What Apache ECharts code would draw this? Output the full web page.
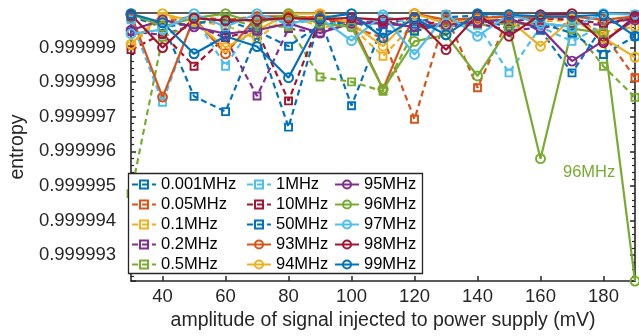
<!DOCTYPE html>
<html>
<head>
<meta charset="utf-8">
<script src="https://cdn.jsdelivr.net/npm/echarts@6/dist/echarts.min.js"></script>
<style>
  html, body { margin: 0; padding: 0; background: #fff; }
  #chart { width: 639px; height: 336px; }
</style>
</head>
<body>
<div id="chart"></div>
<script>
// Injected amplitude (mV)
const amplitudes = [30, 40, 50, 60, 70, 80, 90, 100, 110, 120, 130, 140, 150, 160, 170, 180, 190];

// Entropy per injected frequency
const f0_001MHz = [0.99999995, 0.99999970, 0.99999759, 0.99999715, 0.99999936, 0.99999670, 0.99999985, 0.99999732, 0.99999966, 0.99999975, 0.99999988, 0.99999992, 0.99999985, 0.99999950, 0.99999827, 0.99999965, 0.99999990];
const f0_05MHz  = [0.99999985, 0.99999975, 0.99999990, 0.99999980, 0.99999990, 0.99999970, 0.99999995, 0.99999960, 0.99999928, 0.99999693, 0.99999995, 0.99999784, 0.99999990, 0.99999985, 0.99999990, 0.99999940, 0.99999813];
const f0_1MHz   = [0.99999905, 0.99999990, 0.99999976, 0.99999965, 0.99999925, 0.99999995, 0.99999960, 0.99999961, 0.99999875, 0.99999970, 0.99999955, 0.99999985, 0.99999965, 0.99999975, 0.99999980, 0.99999945, 0.99999960];
const f0_2MHz   = [0.99999946, 0.99999937, 0.99999965, 0.99999928, 0.99999760, 0.99999955, 0.99999942, 0.99999980, 0.99999970, 0.99999985, 0.99999960, 0.99999970, 0.99999950, 0.99999957, 0.99999970, 0.99999966, 0.99999985];
const f0_5MHz   = [0.99999478, 0.99999930, 0.99999970, 0.99999985, 0.99999960, 0.99999961, 0.99999815, 0.99999801, 0.99999774, 0.99999950, 0.99999975, 0.99999965, 0.99999970, 0.99999970, 0.99999961, 0.99999846, 0.99999756];
const f1MHz     = [0.99999980, 0.99999742, 0.99999990, 0.99999846, 0.99999985, 0.99999970, 0.99999980, 0.99999960, 0.99999990, 0.99999970, 0.99999960, 0.99999966, 0.99999827, 0.99999960, 0.99999918, 0.99999966, 0.99999995];
const f10MHz    = [0.99999894, 0.99999940, 0.99999846, 0.99999930, 0.99999950, 0.99999746, 0.99999982, 0.99999970, 0.99999975, 0.99999960, 0.99999980, 0.99999970, 0.99999975, 0.99999985, 0.99999980, 0.99999970, 0.99999985];
const f50MHz    = [0.99999990, 0.99999960, 0.99999970, 0.99999980, 0.99999947, 0.99999904, 0.99999965, 0.99999975, 0.99999947, 0.99999947, 0.99999970, 0.99999980, 0.99999960, 0.99999970, 0.99999942, 0.99999880, 0.99999933];
const f93MHz    = [0.99999995, 0.99999757, 0.99999985, 0.99999882, 0.99999990, 0.99999990, 0.99999985, 0.99999972, 0.99999780, 0.99999998, 0.99999980, 0.99999985, 0.99999990, 0.99999985, 0.99999990, 0.99999980, 0.99999990];
const f94MHz    = [0.99999910, 0.99999998, 0.99999975, 0.99999900, 0.99999950, 0.99999998, 0.99999998, 0.99999970, 0.99999904, 0.99999998, 0.99999970, 0.99999980, 0.99999980, 0.99999904, 0.99999983, 0.99999928, 0.99999872];
const f95MHz    = [0.99999950, 0.99999980, 0.99999960, 0.99999940, 0.99999950, 0.99999970, 0.99999942, 0.99999970, 0.99999970, 0.99999960, 0.99999965, 0.99999976, 0.99999980, 0.99999957, 0.99999861, 0.99999920, 0.99999980];
const f96MHz    = [0.99999997, 0.99999961, 0.99999985, 0.99999998, 0.99999970, 0.99999998, 0.99999970, 0.99999960, 0.99999780, 0.99999918, 0.99999937, 0.99999818, 0.99999957, 0.99999579, 0.99999955, 0.99999942, 0.99999225];
const f97MHz    = [0.99999940, 0.99999952, 0.99999998, 0.99999960, 0.99999998, 0.99999970, 0.99999985, 0.99999920, 0.99999995, 0.99999880, 0.99999995, 0.99999933, 0.99999995, 0.99999970, 0.99999960, 0.99999998, 0.99999995];
const f98MHz    = [0.99999995, 0.99999900, 0.99999985, 0.99999978, 0.99999980, 0.99999985, 0.99999982, 0.99999986, 0.99999980, 0.99999986, 0.99999894, 0.99999995, 0.99999933, 0.99999995, 0.99999998, 0.99999914, 0.99999990];
const f99MHz    = [0.99999998, 0.99999972, 0.99999882, 0.99999933, 0.99999903, 0.99999813, 0.99999985, 0.99999998, 0.99999928, 0.99999985, 0.99999937, 0.99999998, 0.99999995, 0.99999990, 0.99999990, 0.99999995, 0.99999933];

const seriesNames = ['0.001MHz', '0.05MHz', '0.1MHz', '0.2MHz', '0.5MHz', '1MHz', '10MHz', '50MHz',
                     '93MHz', '94MHz', '95MHz', '96MHz', '97MHz', '98MHz', '99MHz'];
const seriesValues = [f0_001MHz, f0_05MHz, f0_1MHz, f0_2MHz, f0_5MHz, f1MHz, f10MHz, f50MHz,
                      f93MHz, f94MHz, f95MHz, f96MHz, f97MHz, f98MHz, f99MHz];
// first eight: dashed lines with square markers; the rest: solid lines with circles
const dashedCount = 8;

const palette = ['#0072BD', '#D95319', '#EDB120', '#7E2F8E', '#77AC30', '#4DBEEE', '#A2142F'];
const FONT = "'Liberation Sans', Arial, Helvetica, sans-serif";
const AXIS_COLOR = '#262626';

const series = seriesNames.map((name, i) => {
  const color = palette[i % palette.length];
  const dashed = i < dashedCount;
  return {
    name: name,
    type: 'line',
    data: amplitudes.map((x, j) => [x, seriesValues[i][j]]),
    symbol: dashed ? 'rect' : 'circle',
    symbolSize: dashed ? 7 : 9,
    showAllSymbol: true,
    clip: false,
    lineStyle: { color: color, width: 2.2, type: dashed ? [6, 4] : 'solid' },
    itemStyle: { color: 'rgba(255,255,255,0)', borderColor: color, borderWidth: 1.9 },
    emphasis: { disabled: true },
    z: 2
  };
});

const chart = echarts.init(document.getElementById('chart'), null, { renderer: 'canvas' });

const commonLegend = {
  orient: 'vertical',
  top: 176,
  padding: 0,
  itemWidth: 24,
  itemHeight: 10,
  itemGap: 3,
  selectedMode: false,
  z: 20,
  textStyle: { fontSize: 16.5, color: '#000', fontFamily: FONT }
};

const yMin = 0.99999225;
const yMax = 1.0;

chart.setOption({
  animation: false,
  backgroundColor: '#fff',
  grid: { left: 123, right: 4, top: 13, bottom: 53, containLabel: false },
  xAxis: [
    {
      type: 'value', position: 'bottom', min: 30, max: 190, splitNumber: 8,
      name: 'amplitude of signal injected to power supply (mV)',
      nameLocation: 'middle', nameGap: 28,
      nameTextStyle: { fontSize: 19.5, color: AXIS_COLOR, fontFamily: FONT },
      axisLine: { show: true, lineStyle: { color: AXIS_COLOR, width: 1.6 } },
      axisTick: { show: true, inside: true, length: 5, lineStyle: { color: AXIS_COLOR, width: 1.5 } },
      axisLabel: { showMinLabel: false, showMaxLabel: false, margin: 6, fontSize: 18.5, color: AXIS_COLOR, fontFamily: FONT },
      splitLine: { show: false }
    },
    {
      type: 'value', position: 'top', min: 30, max: 190, splitNumber: 8,
      axisLine: { show: true, onZero: false, lineStyle: { color: AXIS_COLOR, width: 1.6 } },
      axisTick: { show: true, inside: true, length: 5, lineStyle: { color: AXIS_COLOR, width: 1.5 } },
      axisLabel: { show: false },
      splitLine: { show: false }
    }
  ],
  yAxis: [
    {
      type: 'value', position: 'left', min: yMin, max: yMax, splitNumber: 8,
      name: 'entropy', nameLocation: 'middle', nameGap: 97,
      nameTextStyle: { fontSize: 19.5, color: AXIS_COLOR, fontFamily: FONT },
      axisLine: { show: true, lineStyle: { color: AXIS_COLOR, width: 1.6 } },
      axisTick: { show: true, inside: true, length: 5, lineStyle: { color: AXIS_COLOR, width: 1.5 } },
      minorTick: { show: true, splitNumber: 5, length: 3, lineStyle: { color: AXIS_COLOR, width: 1.2 } },
      axisLabel: {
        showMinLabel: false, showMaxLabel: false, margin: 15,
        fontSize: 18.5, color: AXIS_COLOR, fontFamily: FONT,
        formatter: v => v.toFixed(6)
      },
      splitLine: { show: false }
    },
    {
      type: 'value', position: 'right', min: yMin, max: yMax, splitNumber: 8,
      axisLine: { show: true, onZero: false, lineStyle: { color: AXIS_COLOR, width: 1.6 } },
      axisTick: { show: true, inside: true, length: 5, lineStyle: { color: AXIS_COLOR, width: 1.5 } },
      minorTick: { show: true, splitNumber: 5, length: 3, lineStyle: { color: AXIS_COLOR, width: 1.2 } },
      axisLabel: { show: false },
      splitLine: { show: false }
    }
  ],
  legend: [
    Object.assign({}, commonLegend, { left: 131, data: seriesNames.slice(0, 5) }),
    Object.assign({}, commonLegend, { left: 246, data: seriesNames.slice(5, 10) }),
    Object.assign({}, commonLegend, { left: 334, data: seriesNames.slice(10, 15) })
  ],
  graphic: [
    {
      type: 'rect', z: 15,
      shape: { x: 128.5, y: 173.5, width: 294, height: 100 },
      style: { fill: '#fff', stroke: AXIS_COLOR, lineWidth: 1.3 }
    },
    {
      type: 'text', z: 15, left: 563, top: 164,
      style: { text: '96MHz', fill: '#77AC30', font: '16.5px ' + FONT }
    }
  ],
  series: series
});
</script>
</body>
</html>
